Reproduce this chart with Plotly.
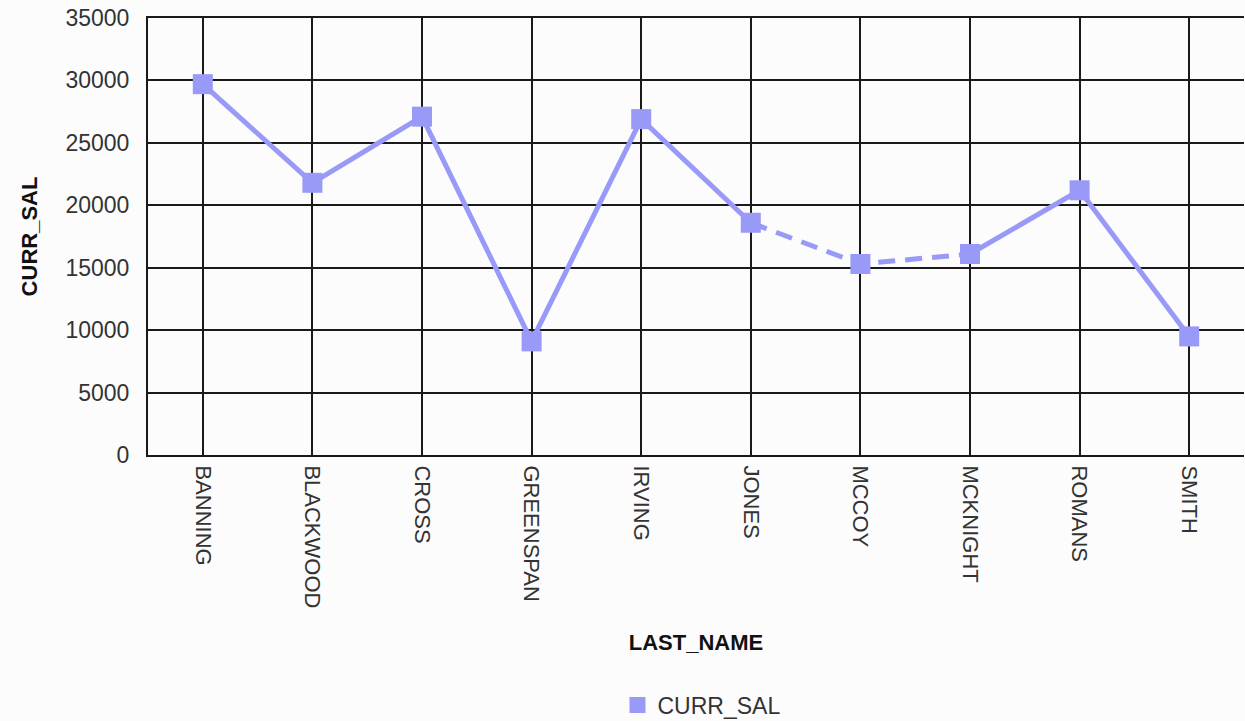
import plotly.graph_objects as go

last_names = ["BANNING", "BLACKWOOD", "CROSS", "GREENSPAN", "IRVING",
              "JONES", "MCCOY", "MCKNIGHT", "ROMANS", "SMITH"]
curr_sal = [29700, 21800, 27100, 9100, 26900, 18600, 15300, 16100, 21200, 9500]
# style of the segment leaving each point (toward the next one)
segment_style = ["solid", "solid", "solid", "solid", "solid",
                 "dash", "dash", "solid", "solid"]
y_ticks = [0, 5000, 10000, 15000, 20000, 25000, 30000, 35000]

COLOR = "#9999f7"
FONT = "Liberation Sans, Arial, sans-serif"
DASH = "17px,10px"

fig = go.Figure()

# group contiguous segments with the same style
runs = []
start = 0
for i in range(1, len(segment_style) + 1):
    if i == len(segment_style) or segment_style[i] != segment_style[start]:
        runs.append((start, i, segment_style[start]))
        start = i

for s, e, style in runs:
    fig.add_trace(go.Scatter(
        x=last_names[s:e + 1], y=curr_sal[s:e + 1], mode="lines",
        line=dict(color=COLOR, width=5, dash=DASH if style == "dash" else "solid"),
        showlegend=False, hoverinfo="skip"))

fig.add_trace(go.Scatter(
    x=last_names, y=curr_sal, mode="markers", name="CURR_SAL",
    marker=dict(symbol="square", size=20, color=COLOR),
    showlegend=True))

fig.update_layout(
    width=1245, height=721,
    margin=dict(l=148, r=1, t=18, b=266, autoexpand=False),
    paper_bgcolor="#fcfcfc", plot_bgcolor="#fcfcfc",
    font=dict(family=FONT, size=23, color="#333333"),
    showlegend=True,
    legend=dict(orientation="h", x=0.505, xanchor="center",
                y=0.0222, yref="container", yanchor="middle",
                font=dict(size=23, color="#333333"), bgcolor="rgba(0,0,0,0)"),
)

fig.update_xaxes(
    type="category", range=[-0.5, len(last_names) - 0.5],
    tickangle=90, showgrid=True, gridcolor="#1a1a1a", gridwidth=2,
    showline=True, linecolor="#1a1a1a", linewidth=2, mirror=True,
    ticks="", tickfont=dict(size=22, color="#333333"),
    ticklabelstandoff=4, automargin=False,
    title=dict(text="<b>LAST_NAME</b>", font=dict(size=22, color="#111111"), standoff=27),
    zeroline=False, fixedrange=True,
)
fig.update_yaxes(
    range=[0, 35000], tickvals=y_ticks, ticktext=[str(v) for v in y_ticks],
    showgrid=True, gridcolor="#1a1a1a", gridwidth=2,
    showline=True, linecolor="#1a1a1a", linewidth=2,
    ticks="", tickfont=dict(size=23, color="#333333"),
    ticklabelstandoff=12, ticklabeloverflow="allow", automargin=False,
    title=dict(text="<b>CURR_SAL</b>", font=dict(size=22, color="#111111"), standoff=22),
    zeroline=False, fixedrange=True,
)

fig.write_html(
    "out.html",
    config={"displayModeBar": False},
    post_script="document.body.style.margin='0';document.body.style.background='#fcfcfc';",
)
